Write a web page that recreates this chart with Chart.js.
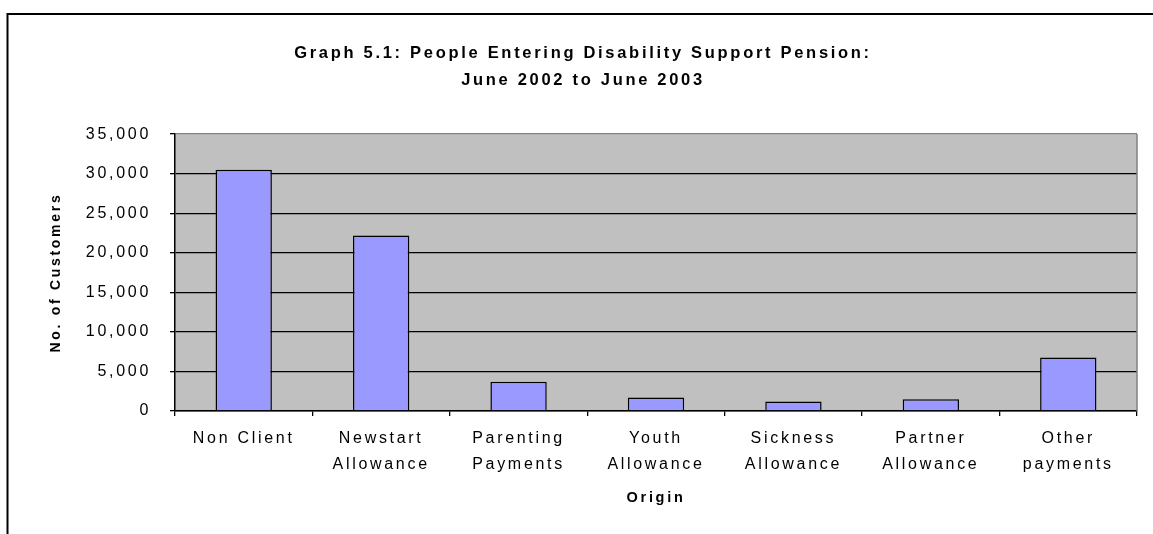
<!DOCTYPE html>
<html>
<head>
<meta charset="utf-8">
<script src="https://cdn.jsdelivr.net/npm/chart.js@4.4.1/dist/chart.umd.min.js"></script>
<style>
    body { margin: 0; background: #fff; overflow: hidden; }
    #wrap { width: 1153px; height: 534px; }
</style>
</head>
<body>
<div id="wrap"><canvas id="dspChart" width="1153" height="534"></canvas></div>
<script>
// Origin of people entering DSP, June 2002 - June 2003
const categories = [
    'Non Client',
    ['Newstart', 'Allowance'],
    ['Parenting', 'Payments'],
    ['Youth', 'Allowance'],
    ['Sickness', 'Allowance'],
    ['Partner', 'Allowance'],
    ['Other', 'payments']
];
const customers = [30500, 22200, 3700, 1700, 1200, 1500, 6750];
const yTicks = [0, 5000, 10000, 15000, 20000, 25000, 30000, 35000];

const chartTitle = ['Graph 5.1: People Entering Disability Support Pension:', 'June 2002 to June 2003'];
const yTitle = 'No. of Customers';
const xTitle = 'Origin';

const FONT = "'Liberation Sans', Arial, sans-serif";
const SPACING = '2.7px';

// Excel-style look: grey plot area, outer frame, spaced lettering
const excelLook = {
    id: 'excelLook',
    beforeLayout(chart) {
        chart.ctx.letterSpacing = SPACING;
    },
    beforeDraw(chart) {
        const ctx = chart.ctx;
        const a = chart.chartArea;
        ctx.letterSpacing = SPACING;
        ctx.save();
        ctx.fillStyle = '#c0c0c0';
        ctx.fillRect(a.left, a.top, a.right - a.left, a.bottom - a.top);
        ctx.strokeStyle = '#000';
        ctx.lineWidth = 2;
        ctx.strokeRect(7.5, 14, 1400, 800);
        ctx.restore();
    },
    afterDraw(chart) {
        const ctx = chart.ctx;
        const a = chart.chartArea;
        ctx.save();
        ctx.strokeStyle = '#808080';
        ctx.lineWidth = 1.5;
        ctx.beginPath();
        ctx.moveTo(a.right, a.top);
        ctx.lineTo(a.right, a.bottom);
        ctx.stroke();
        ctx.restore();
    }
};

const ctx = document.getElementById('dspChart').getContext('2d');
new Chart(ctx, {
    type: 'bar',
    data: {
        labels: categories,
        datasets: [{
            data: customers,
            backgroundColor: '#9999ff',
            borderColor: '#000',
            borderWidth: 1.5,
            categoryPercentage: 1,
            barPercentage: 0.41
        }]
    },
    options: {
        responsive: false,
        animation: false,
        layout: { padding: { left: 29, right: 16, top: 0, bottom: 0 } },
        plugins: {
            legend: { display: false },
            tooltip: { enabled: false },
            title: {
                display: true,
                text: chartTitle,
                color: '#000',
                font: { family: FONT, size: 16.5, weight: 'bold', lineHeight: 1.64 },
                padding: { top: 39.5, bottom: 40.5 }
            }
        },
        scales: {
            x: {
                grid: {
                    display: true,
                    drawOnChartArea: false,
                    offset: true,
                    color: '#000',
                    tickLength: 5,
                    lineWidth: 1.3
                },
                border: { color: '#000', width: 1.5 },
                ticks: {
                    color: '#000',
                    padding: 10,
                    maxRotation: 0,
                    autoSkip: false,
                    font: { family: FONT, size: 16, lineHeight: 1.625 }
                },
                title: {
                    display: true,
                    text: xTitle,
                    color: '#000',
                    font: { family: FONT, size: 14.5, weight: 'bold' },
                    padding: { top: 0, bottom: 27 }
                },
                afterFit(scale) { scale.height = 123; }
            },
            y: {
                min: 0,
                max: 35000,
                afterBuildTicks(scale) {
                    scale.ticks = yTicks.map(v => ({ value: v }));
                },
                grid: {
                    color: c => (c.tick && c.tick.value === 35000 ? '#808080' : '#000'),
                    tickColor: '#000',
                    tickLength: 5,
                    lineWidth: 1.3
                },
                border: { color: '#000', width: 1.5 },
                ticks: {
                    color: '#000',
                    padding: 19,
                    font: { family: FONT, size: 16 },
                    callback: v => v.toLocaleString('en-US')
                },
                title: {
                    display: true,
                    text: yTitle,
                    color: '#000',
                    font: { family: FONT, size: 14, weight: 'bold' },
                    padding: { top: 18.5, bottom: 0 }
                },
                afterFit(scale) { scale.width = 146; }
            }
        }
    },
    plugins: [excelLook]
});
</script>
</body>
</html>
